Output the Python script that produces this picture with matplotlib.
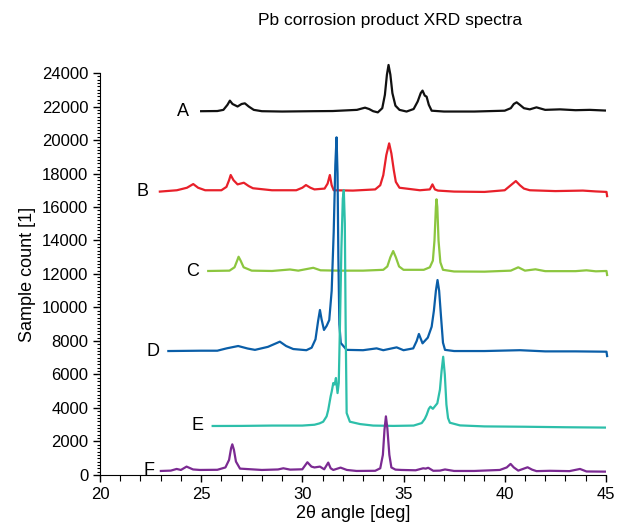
import matplotlib
matplotlib.use("Agg")
import matplotlib.pyplot as plt
from matplotlib.ticker import MultipleLocator

plt.rcParams['font.family'] = ['Liberation Sans', 'DejaVu Sans']

# Spectra (2theta in deg, counts)
xA = [25.0, 25.8, 26.1, 26.3, 26.42, 26.55, 26.8, 27.0, 27.16, 27.35, 27.6,
      28.0, 29.0, 30.5, 31.5, 32.7, 33.0, 33.1, 33.3, 33.5, 33.73, 33.95,
      34.08, 34.18, 34.26, 34.35, 34.45, 34.6, 34.8, 35.15, 35.5, 35.7, 35.85,
      35.94, 36.05, 36.14, 36.25, 36.39, 37.0, 38.5, 40.0, 40.3, 40.45, 40.59,
      40.75, 40.95, 41.24, 41.57, 42.0, 42.73, 43.5, 44.2, 44.95]
yA = [21720, 21730, 21800, 22100, 22350, 22150, 22000, 22150, 22190, 22000,
      21800, 21720, 21700, 21720, 21730, 21800, 21900, 21930, 21850, 21720,
      21650, 21900, 22700, 23900, 24480, 23900, 22800, 22050, 21800, 21700,
      21850, 22300, 22800, 22950, 22650, 22590, 22100, 21750, 21700, 21700,
      21750, 21900, 22150, 22250, 22100, 21900, 21830, 21950, 21800, 21830,
      21780, 21800, 21760]

xB = [22.96, 23.8, 24.3, 24.61, 24.85, 25.2, 26.0, 26.25, 26.38, 26.46, 26.6,
      26.8, 27.11, 27.35, 27.56, 28.5, 29.7, 30.0, 30.18, 30.4, 30.6, 31.1,
      31.25, 31.36, 31.45, 31.55, 32.5, 33.6, 33.85, 34.0, 34.15, 34.29, 34.4,
      34.52, 34.62, 34.8, 35.81, 36.3, 36.43, 36.55, 36.7, 37.5, 39.0, 40.0,
      40.3, 40.55, 40.75, 40.95, 41.24, 42.5, 43.86, 44.5, 45.03, 45.06]
yB = [16920, 17000, 17150, 17370, 17150, 17000, 17000, 17200, 17600, 17910,
      17600, 17350, 17450, 17250, 17120, 17000, 17000, 17150, 17310, 17150,
      17050, 17100, 17400, 17910, 17300, 17000, 16980, 17050, 17300, 17900,
      19100, 19800, 19200, 18200, 17500, 17150, 17000, 17050, 17350, 17050,
      16980, 16920, 16900, 17000, 17300, 17550, 17300, 17100, 17000, 16950,
      16980, 16930, 16900, 16650]

xC = [25.35, 26.4, 26.65, 26.78, 26.85, 26.95, 27.1, 27.5, 28.5, 29.39, 29.8,
      30.54, 30.9, 31.8, 33.0, 34.0, 34.2, 34.35, 34.49, 34.62, 34.78, 35.0,
      36.0, 36.3, 36.45, 36.53, 36.6, 36.63, 36.67, 36.73, 36.82, 36.95, 37.5,
      39.0, 40.3, 40.67, 41.0, 41.52, 42.0, 43.5, 44.04, 44.5, 45.03, 45.06]
yC = [12180, 12200, 12400, 12800, 13030, 12800, 12400, 12200, 12180, 12270,
      12200, 12370, 12220, 12200, 12200, 12250, 12450, 13000, 13370, 13000,
      12450, 12250, 12250, 12400, 12800, 14000, 16000, 16460, 16000, 14000,
      12700, 12250, 12150, 12140, 12200, 12400, 12200, 12280, 12170, 12170,
      12220, 12160, 12180, 11940]

xD = [23.38, 25.0, 25.8, 26.26, 26.83, 27.3, 27.66, 28.3, 28.89, 29.2, 29.55,
      30.2, 30.46, 30.65, 30.78, 30.87, 30.95, 31.07, 31.2, 31.33, 31.45,
      31.55, 31.63, 31.69, 31.74, 31.78, 31.83, 31.9, 32.19, 33.0, 33.67, 34.0,
      34.66, 35.0, 35.48, 35.65, 35.76, 35.94, 36.2, 36.39, 36.5, 36.6, 36.68,
      36.76, 36.85, 36.95, 37.05, 37.5, 39.0, 40.75, 42.0, 43.5, 45.03, 45.06]
yD = [7400, 7420, 7420, 7560, 7700, 7550, 7470, 7650, 7960, 7700, 7520, 7450,
      7600, 8100, 9200, 9850, 9300, 8660, 8900, 9250, 11000, 14500, 18500,
      20160, 18000, 13000, 9000, 7880, 7470, 7450, 7560, 7450, 7620, 7450,
      7560, 8000, 8420, 7860, 8200, 8850, 9800, 11000, 11640, 11000, 9500,
      7900, 7470, 7400, 7400, 7450, 7380, 7380, 7360, 7100]

xE = [25.57, 27.0, 28.5, 30.0, 30.6, 30.85, 31.03, 31.2, 31.28, 31.4, 31.45,
      31.53, 31.6, 31.66, 31.74, 31.8, 31.86, 31.93, 32.0, 32.05, 32.1, 32.14,
      32.19, 32.35, 32.85, 33.5, 34.5, 35.5, 35.9, 36.05, 36.14, 36.25, 36.33,
      36.45, 36.55, 36.67, 36.8, 36.88, 36.96, 37.04, 37.12, 37.2, 37.29,
      37.79, 39.0, 41.0, 43.0, 44.95]
yE = [2925, 2930, 2950, 2950, 3000, 3080, 3180, 3500, 3880, 4700, 4970, 5490,
      5400, 5790, 4890, 5500, 9000, 13500, 16500, 17010, 15000, 9000, 3700,
      3180, 3040, 2950, 2930, 2950, 3100, 3350, 3580, 3950, 4080, 3950, 4100,
      4280, 5100, 6200, 7060, 6000, 4200, 3400, 3120, 2960, 2900, 2880, 2850,
      2830]

xF = [23.01, 23.5, 23.79, 24.0, 24.28, 24.6, 24.94, 25.8, 26.2, 26.38, 26.48,
      26.54, 26.62, 26.72, 26.92, 28.0, 28.8, 29.06, 29.4, 30.0, 30.25, 30.45,
      30.6, 30.87, 31.08, 31.28, 31.4, 31.53, 31.89, 32.2, 32.68, 33.6, 33.85,
      33.98, 34.06, 34.13, 34.2, 34.3, 34.4, 34.6, 34.9, 35.6, 35.97, 36.1,
      36.22, 36.47, 36.8, 37.05, 37.5, 38.5, 39.76, 40.1, 40.29, 40.45, 40.67,
      41.13, 41.35, 41.57, 42.23, 43.2, 43.72, 44.04, 44.95]
yF = [240, 260, 360, 300, 500, 330, 300, 310, 450, 900, 1600, 1830, 1500, 800,
      380, 300, 330, 400, 320, 340, 760, 500, 450, 500, 340, 740, 400, 300,
      440, 300, 240, 250, 400, 1200, 2700, 3500, 2800, 1200, 450, 320, 300,
      280, 400, 380, 430, 250, 260, 330, 240, 240, 300, 450, 660, 450, 260,
      460, 320, 230, 250, 230, 360, 210, 200]

labels = ["A", "B", "C", "D", "E", "F"]
xs = [xA, xB, xC, xD, xE, xF]
ys = [yA, yB, yC, yD, yE, yF]
colors = ["#111111", "#e8202a", "#8cc63f", "#0a5ea8", "#2dbfaa", "#7b2a92"]
label_pos = [(24.1, 21700), (22.1, 16950), (24.6, 12150), (22.6, 7350),
             (24.8, 2950), (22.4, 250)]

fig = plt.figure(figsize=(6.17, 5.31), dpi=100)
ax = fig.add_axes([0.162, 0.1055, 0.82, 0.757])

for x, y, c in zip(xs, ys, colors):
    ax.plot(x, y, color=c, linewidth=1.6, solid_joinstyle='round',
            clip_on=False)

for lab, (lx, ly) in zip(labels, label_pos):
    ax.text(lx, ly, lab, fontsize=13, ha='center', va='center')

ax.set_xlim(20, 45)
ax.set_ylim(0, 24000)
ax.xaxis.set_major_locator(MultipleLocator(5))
ax.xaxis.set_minor_locator(MultipleLocator(1))
ax.yaxis.set_major_locator(MultipleLocator(2000))
ax.yaxis.set_minor_locator(MultipleLocator(200))
ax.spines['top'].set_visible(False)
ax.spines['right'].set_visible(False)
ax.tick_params(axis='both', which='major', labelsize=12, length=5, width=1)
ax.tick_params(axis='y', which='minor', length=2.5, width=0.8)
ax.tick_params(axis='x', which='minor', length=4, width=0.8)

ax.set_xlabel("2θ angle [deg]", fontsize=13, labelpad=2)
ax.set_ylabel("Sample count [1]", fontsize=13, labelpad=4)
fig.text(0.632, 0.962, "Pb corrosion product XRD spectra", fontsize=12.5,
         ha='center', va='center')

fig.savefig("out.png", dpi=100)
